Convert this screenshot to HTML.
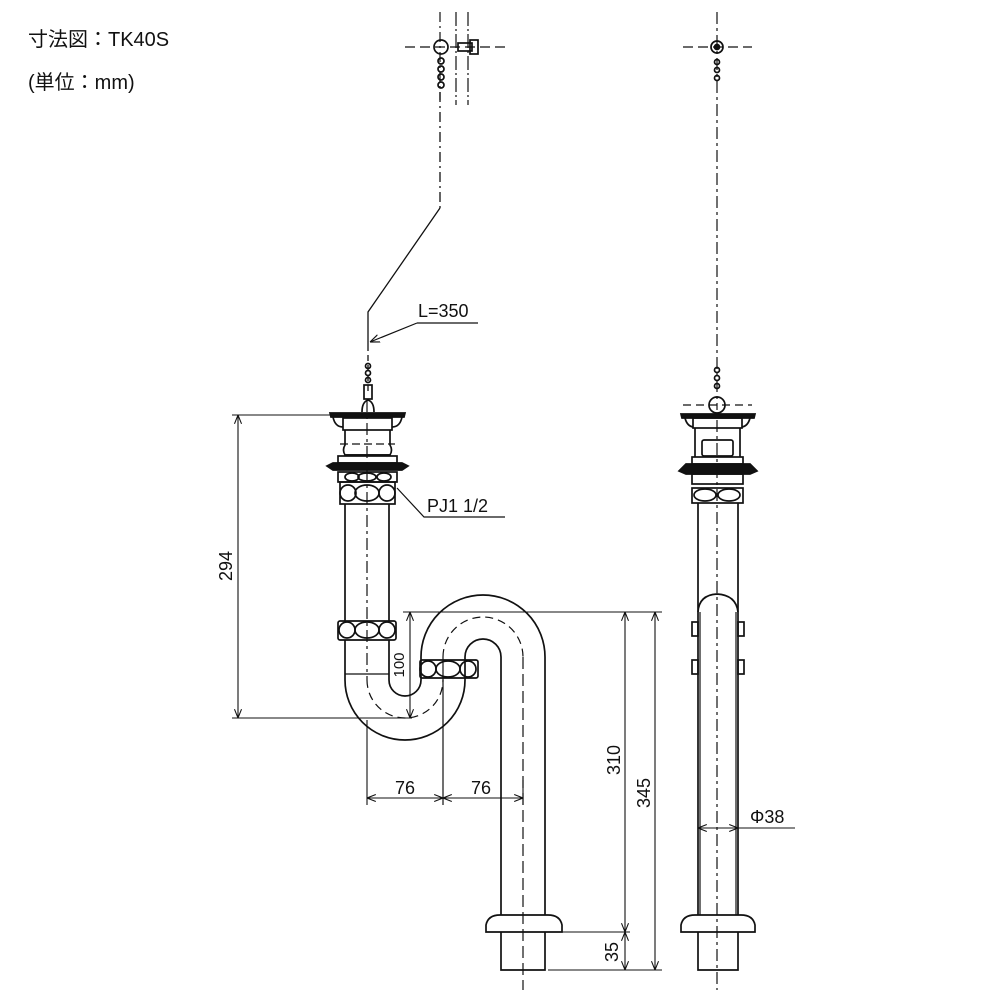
<!DOCTYPE html>
<html><head><meta charset="utf-8"><style>
html,body{margin:0;padding:0;background:#fff}
svg{display:block}
text{font-family:"Liberation Sans","Noto Sans CJK JP",sans-serif;fill:#111}
</style></head><body>
<svg width="1000" height="1000" viewBox="0 0 1000 1000" xmlns="http://www.w3.org/2000/svg">
<defs>
<marker id="a" viewBox="0 0 10 10" refX="10" refY="5" markerWidth="8" markerHeight="8" orient="auto-start-reverse"><path d="M0,1 L10,5 L0,9" fill="none" stroke="#111" stroke-width="1.2"/></marker>
</defs>
<text x="28" y="46" font-size="20">寸法図：TK40S</text>
<text x="28" y="89" font-size="20">(単位：mm)</text>

<g fill="none" stroke="#111" stroke-width="1.7">
<line x1="440" y1="12" x2="440" y2="100" stroke-dasharray="10,4,2,4" stroke-width="1.2"/>
<line x1="456" y1="12" x2="456" y2="105" stroke-dasharray="14,3,2,3" stroke-width="1.2"/>
<line x1="468" y1="12" x2="468" y2="105" stroke-dasharray="14,3,2,3" stroke-width="1.2"/>
<line x1="405" y1="47" x2="505" y2="47" stroke-dasharray="10,5" stroke-width="1.2"/>
<circle cx="441" cy="47" r="7"/>
<rect x="458" y="43" width="14" height="8"/>
<rect x="470" y="40" width="8" height="14"/>
<circle cx="441" cy="61" r="3"/><circle cx="441" cy="69" r="3"/><circle cx="441" cy="77" r="3"/><circle cx="441" cy="85" r="3"/>
<line x1="440" y1="92" x2="440" y2="208" stroke-dasharray="10,4,2,4" stroke-width="1.3"/>
<polyline points="440,208 368,312 368,345" stroke-width="1.3"/>
<line x1="368" y1="345" x2="368" y2="395" stroke-dasharray="6,4" stroke-width="1.3"/>
<circle cx="368" cy="366" r="2.5"/><circle cx="368" cy="373" r="2.5"/><circle cx="368" cy="380" r="2.5"/>
<rect x="364" y="385" width="8" height="14"/>
<path d="M362,412 q0,-10 6,-12 q6,2 6,12"/>
<line x1="478" y1="323" x2="417" y2="323" stroke-width="1.2"/>
<line x1="417" y1="323" x2="370" y2="342" stroke-width="1.2" marker-end="url(#a)"/>
<path d="M330,413 L405,413 L404,417 L331,417 Z" fill="#111"/>
<path d="M333,417 q2,10 10,10 M402,417 q-2,10 -10,10"/>
<rect x="343" y="418" width="49" height="12"/>
<path d="M345,430 L345,445 q-3,5 0,10 L390,455 q3,-5 0,-10 L390,430"/>
<line x1="345" y1="455" x2="390" y2="455"/>
<line x1="340" y1="444" x2="395" y2="444" stroke-dasharray="8,4" stroke-width="1.2"/>
<rect x="338" y="456" width="59" height="7"/>
<path d="M327,466 L333,463 L402,463 L408,466 L402,470 L333,470 Z" fill="#111"/>
<rect x="338" y="472" width="59" height="10"/>
<ellipse cx="352" cy="477" rx="7" ry="4"/><ellipse cx="367" cy="477" rx="9" ry="4"/><ellipse cx="384" cy="477" rx="7" ry="4"/>
<rect x="340" y="482" width="55" height="22"/>
<circle cx="348" cy="493" r="8"/><ellipse cx="367" cy="493" rx="12" ry="8"/><circle cx="387" cy="493" r="8"/>
<polyline points="397,488 424,517 505,517" stroke-width="1.2"/>
<text x="427" y="512" font-size="18" stroke="none">PJ1 1/2</text>
<line x1="345" y1="504" x2="345" y2="621"/><line x1="389" y1="504" x2="389" y2="621"/>
<rect x="338" y="621" width="58" height="19" rx="2"/>
<circle cx="347" cy="630" r="8"/><ellipse cx="367" cy="630" rx="12" ry="8"/><circle cx="387" cy="630" r="8"/>
<line x1="345" y1="640" x2="345" y2="680"/><line x1="389" y1="640" x2="389" y2="680"/>
<line x1="345" y1="674" x2="389" y2="674" stroke-width="1.2"/>
<path d="M345,680 A60,60 0 0 0 465,680"/>
<path d="M389,680 A16,16 0 0 0 421,680"/>
<path d="M367,680 A38,38 0 0 0 443,680" stroke-dasharray="8,5" stroke-width="1.2"/>
<line x1="367" y1="400" x2="367" y2="680" stroke-dasharray="12,4,3,4" stroke-width="1.2"/>
<line x1="421" y1="657" x2="421" y2="680"/><line x1="465" y1="657" x2="465" y2="680"/>
<rect x="420" y="660" width="58" height="18" rx="2"/>
<circle cx="428" cy="669" r="8"/><ellipse cx="448" cy="669" rx="12" ry="8"/><circle cx="468" cy="669" r="8"/>
<path d="M421,657 A62,62 0 0 1 545,657"/>
<path d="M465,657 A18,18 0 0 1 501,657"/>
<path d="M443,657 A40,40 0 0 1 523,657" stroke-dasharray="8,5" stroke-width="1.2"/>
<line x1="443" y1="657" x2="443" y2="805" stroke-width="1.2"/>
<line x1="501" y1="657" x2="501" y2="915"/><line x1="545" y1="657" x2="545" y2="915"/>
<line x1="523" y1="657" x2="523" y2="990" stroke-dasharray="12,5" stroke-width="1.2"/>
<path d="M486,932 L486,925 Q488,915 500,915 L548,915 Q560,915 562,925 L562,932 Z"/>
<path d="M501,932 L501,970 L545,970 L545,932"/>
<g stroke-width="1.1">
<line x1="232" y1="415" x2="330" y2="415"/>
<line x1="232" y1="718" x2="412" y2="718"/>
<line x1="238" y1="415" x2="238" y2="718" marker-start="url(#a)" marker-end="url(#a)"/>
<line x1="403" y1="612" x2="662" y2="612"/>
<line x1="410" y1="612" x2="410" y2="718" marker-start="url(#a)" marker-end="url(#a)"/>
<line x1="548" y1="932" x2="630" y2="932"/>
<line x1="548" y1="970" x2="662" y2="970"/>
<line x1="625" y1="612" x2="625" y2="932" marker-start="url(#a)" marker-end="url(#a)"/>
<line x1="655" y1="612" x2="655" y2="970" marker-start="url(#a)" marker-end="url(#a)"/>
<line x1="625" y1="932" x2="625" y2="970" marker-start="url(#a)" marker-end="url(#a)"/>
<line x1="367" y1="720" x2="367" y2="805"/>
<line x1="523" y1="780" x2="523" y2="805"/>
<line x1="367" y1="798" x2="443" y2="798" marker-start="url(#a)" marker-end="url(#a)"/>
<line x1="443" y1="798" x2="523" y2="798" marker-start="url(#a)" marker-end="url(#a)"/>
</g>
</g>
<g font-size="18" stroke="none">
<text x="418" y="317">L=350</text>
<text transform="translate(232,566) rotate(-90)" text-anchor="middle">294</text>
<text transform="translate(404,665) rotate(-90)" text-anchor="middle" font-size="15">100</text>
<text transform="translate(620,760) rotate(-90)" text-anchor="middle">310</text>
<text transform="translate(650,793) rotate(-90)" text-anchor="middle">345</text>
<text transform="translate(618,952) rotate(-90)" text-anchor="middle">35</text>
<text x="405" y="794" text-anchor="middle">76</text>
<text x="481" y="794" text-anchor="middle">76</text>
<text x="750" y="823">Φ38</text>
</g>

<g fill="none" stroke="#111" stroke-width="1.7">
<line x1="717" y1="12" x2="717" y2="410" stroke-dasharray="12,4,3,4" stroke-width="1.2"/>
<line x1="683" y1="47" x2="752" y2="47" stroke-dasharray="10,5" stroke-width="1.2"/>
<circle cx="717" cy="47" r="6"/><circle cx="717" cy="47" r="2.5" fill="#111"/>
<circle cx="717" cy="62" r="2.5"/><circle cx="717" cy="70" r="2.5"/><circle cx="717" cy="78" r="2.5"/>
<circle cx="717" cy="370" r="2.5"/><circle cx="717" cy="378" r="2.5"/><circle cx="717" cy="386" r="2.5"/>
<circle cx="717" cy="405" r="8"/>
<line x1="683" y1="405" x2="752" y2="405" stroke-dasharray="8,5" stroke-width="1.2"/>
<path d="M681,414 L755,414 L754,418 L682,418 Z" fill="#111"/>
<path d="M685,418 q2,8 8,9 M750,418 q-2,8 -8,9"/>
<rect x="693" y="418" width="49" height="10"/>
<line x1="695" y1="428" x2="695" y2="457"/><line x1="740" y1="428" x2="740" y2="457"/>
<rect x="702" y="440" width="31" height="16" rx="2"/>
<rect x="692" y="457" width="51" height="7"/>
<path d="M679,471 L686,464 L750,464 L757,471 L750,474 L686,474 Z" fill="#111"/>
<rect x="692" y="474" width="51" height="10"/>
<rect x="692" y="488" width="51" height="15"/>
<ellipse cx="705" cy="495" rx="11" ry="6"/><ellipse cx="729" cy="495" rx="11" ry="6"/>
<line x1="698" y1="503" x2="698" y2="915"/><line x1="738" y1="503" x2="738" y2="915"/>
<path d="M698,612 Q699,595 717,594 Q736,595 738,612"/>
<line x1="700" y1="612" x2="700" y2="915" stroke-width="1.2"/>
<line x1="736" y1="612" x2="736" y2="915" stroke-width="1.2"/>
<rect x="692" y="622" width="6" height="14"/><rect x="738" y="622" width="6" height="14"/>
<rect x="692" y="660" width="6" height="14"/><rect x="738" y="660" width="6" height="14"/>
<line x1="717" y1="420" x2="717" y2="990" stroke-dasharray="12,4,3,4" stroke-width="1.2"/>
<path d="M681,932 L681,925 Q683,915 695,915 L741,915 Q753,915 755,925 L755,932 Z"/>
<path d="M698,932 L698,970 L738,970 L738,932"/>
<line x1="698" y1="828" x2="738" y2="828" stroke-width="1.1" marker-start="url(#a)" marker-end="url(#a)"/>
<line x1="738" y1="828" x2="795" y2="828" stroke-width="1.1"/>
</g>
</svg>
</body></html>
